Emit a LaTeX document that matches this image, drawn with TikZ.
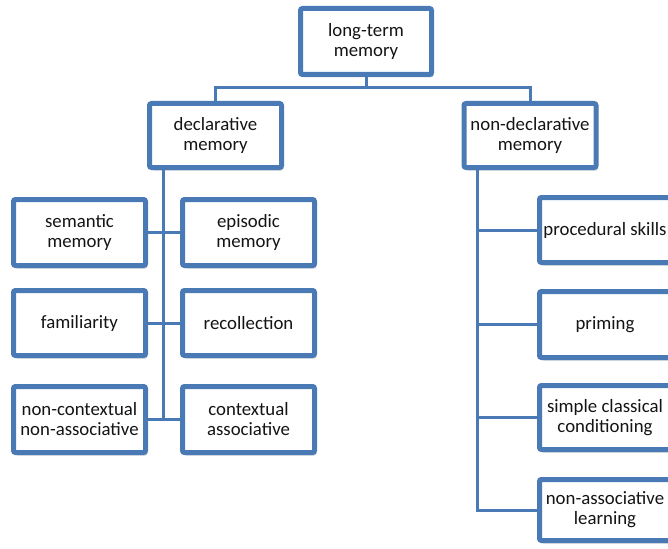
\documentclass[tikz,border=0pt]{standalone}
\usepackage{fontspec}
\setmainfont{Carlito}
\usetikzlibrary{shadows}
\definecolor{boxblue}{HTML}{4A7AB5}
\definecolor{txt}{HTML}{141414}
\begin{document}
\begin{tikzpicture}[x=1pt,y=-1pt,
  mbox/.style={draw=boxblue, line width=5pt, fill=white, rounded corners=2pt,
    minimum width=132pt, minimum height=66pt, inner sep=0pt, align=center,
    text=txt, font=\fontsize{18.8}{20}\selectfont,
    drop shadow={shadow xshift=2pt, shadow yshift=-3pt, opacity=0.35, fill=black!50}},
  conn/.style={draw=boxblue, line width=3pt}]
\useasboundingbox (0,0) rectangle (668,548);
\clip (0,0) rectangle (668,548);
\fill[white] (0,0) rectangle (668,548);
\coordinate (j) at (366,88);
\coordinate (lv) at (163,419.5);
\coordinate (rv) at (477,510);
\node[mbox, minimum width=131pt] (ltm) at (366,41.5) {long-term\\memory};
\node[mbox, minimum height=64pt] (decl) at (215.5,135.5) {declarative\\memory};
\node[mbox, minimum height=64pt] (nondecl) at (530,135.5) {non-declarative\\memory};
\node[mbox] (sem) at (79.5,232.5) {semantic\\memory};
\node[mbox] (epi) at (248.5,232.5) {episodic\\memory};
\node[mbox, minimum height=65pt] (fam) at (79.5,323) {familiarity};
\node[mbox, minimum height=65pt] (rec) at (248.5,323) {recollection};
\node[mbox] (nonctx) at (79.5,419.5) {non-contextual\\non-associative};
\node[mbox] (ctx) at (248.5,419.5) {contextual\\associative};
\node[mbox, minimum width=131pt, minimum height=65pt] (proc) at (605,230) {procedural skills};
\node[mbox, minimum width=131pt] (prim) at (605,324.5) {priming};
\node[mbox, minimum width=131pt, minimum height=64pt] (simp) at (605,417.5) {simple classical\\conditioning};
\node[mbox, minimum width=131pt, minimum height=61pt] (nonassoc) at (605,510) {non-associative\\learning};
\draw[conn] (ltm.south) -- (j);
\draw[conn] (j) -| (decl.north);
\draw[conn] (j) -| (nondecl.north);
\draw[conn] (decl.south -| lv) -- (lv);
\draw[conn] (sem.east) -- (epi.west);
\draw[conn] (fam.east) -- (rec.west);
\draw[conn] (nonctx.east) -- (ctx.west);
\draw[conn] (nondecl.south -| rv) -- (rv) -- (nonassoc.west);
\draw[conn] (proc.west -| rv) -- (proc.west);
\draw[conn] (prim.west -| rv) -- (prim.west);
\draw[conn] (simp.west -| rv) -- (simp.west);
\end{tikzpicture}
\end{document}
